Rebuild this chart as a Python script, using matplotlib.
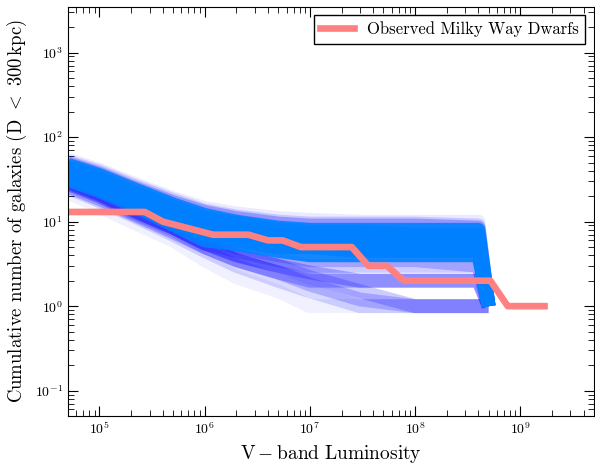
import matplotlib
matplotlib.use("Agg")
import matplotlib.pyplot as plt
import numpy as np

# luminosity grid shared by the model realisations
lum = [5e4, 1e5, 2e5, 5e5, 1e6, 2e6, 5e6, 1e7, 3e7, 1e8, 4e8, 5e8]

# dense (bright blue) realisations
core_counts = [
    [47, 35.5, 25, 16, 12, 10, 8.5, 8, 8, 8, 8, 1],
    [44, 33, 23, 15, 11, 9.5, 8, 7.5, 7.5, 7, 7, 1],
    [41, 30.5, 21.5, 14, 10, 8.5, 7, 7, 6.5, 6.5, 6.5, 1],
    [38, 28, 19.5, 12.5, 9, 7.5, 6.5, 6, 6, 6, 6, 1],
    [35, 26, 18, 11, 8, 7, 6, 5.5, 5, 5, 5, 1],
    [33, 24.5, 17, 10, 7, 6, 5, 5, 4.5, 4.5, 4.5, 1],
    [31, 23, 16, 9.2, 6, 5.4, 4.5, 4, 4, 4, 4, 1],
]

# faint (lavender) realisations
faint_counts = [
    [51, 39, 27.5, 18, 13.5, 11.5, 10, 9.5, 9.5, 9.5, 9, 1],
    [54, 41, 29, 19, 14.5, 12.5, 11, 10.5, 10, 10, 10, 1],
    [49, 37, 26, 17, 13, 11, 9.5, 9, 9, 9, 8.5, 1],
    [32, 23.5, 16, 9.5, 6.5, 5, 4, 3.5, 3.5, 3.5, 3, 1],
    [28, 20, 13.5, 8.5, 5.5, 4.5, 3.5, 3, 3, 3, 3, 1],
    [29, 21, 14, 8.5, 5.5, 4, 3, 2.5, 2, 2, 2, 1],
    [26, 18.5, 12.5, 7.5, 5, 3.5, 2.5, 2, 2, 2, 2, 1],
    [25, 17.5, 12, 7, 4.5, 3, 2, 1.5, 1, 1, 1, 1],
    [28, 20, 13, 8, 5, 3.5, 2.5, 1.8, 1.2, 1, 1, 1],
    [30, 21, 14, 8.5, 5.5, 4, 3, 2.2, 1.5, 1, 1, 1],
    [22, 15, 10, 6, 3.5, 2.2, 1.5, 1, 1, 1, 1, 1],
]
faint_alpha = [0.15, 0.08, 0.25, 0.2, 0.2, 0.25, 0.25, 0.15, 0.2, 0.2, 0.06]

# observed Milky Way satellites
obs_lum = [5e4, 2.7e5, 4e5, 1.2e6, 2.6e6, 4e6, 5.5e6, 8.2e6, 2.5e7, 3.6e7,
           5.4e7, 7.8e7, 5.2e8, 7.6e8, 1.7e9]
obs_count = [13, 13, 10, 7, 7, 6, 6, 5, 5, 3, 3, 2, 2, 1, 1]


def main():
    plt.rcParams['font.family'] = 'serif'
    plt.rcParams['font.serif'] = ['cmr10']
    plt.rcParams['mathtext.fontset'] = 'cm'
    plt.rcParams['axes.formatter.use_mathtext'] = True
    plt.rcParams['xtick.direction'] = 'in'
    plt.rcParams['ytick.direction'] = 'in'
    plt.rcParams['xtick.top'] = True
    plt.rcParams['ytick.right'] = True

    fig = plt.figure(figsize=(5.95, 4.65), dpi=100)
    ax = fig.add_axes([0.114, 0.105, 0.884, 0.881])

    for row, a in zip(faint_counts, faint_alpha):
        ax.plot(lum, row, color='blue', lw=10, alpha=a, solid_capstyle='butt')
    for row in core_counts:
        ax.plot(lum, row, color='#0080ff', lw=10, alpha=0.9, solid_capstyle='butt')

    ax.plot(obs_lum, obs_count, color='#ff8080', lw=4.8,
            label='Observed Milky Way Dwarfs')

    ax.set_xscale('log')
    ax.set_yscale('log')
    ax.set_xlim(5e4, 5e9)
    ax.set_ylim(0.05, 3500)
    ax.tick_params(which='major', length=7, width=0.8, labelsize=10)
    ax.tick_params(which='minor', length=4, width=0.6)

    ax.set_xlabel(r'$\mathrm{V-band\ Luminosity}$', fontsize=14)
    ax.set_ylabel(r'Cumulative number of galaxies (D $<$ 300$\,$kpc)',
                  fontsize=13.5)

    leg = ax.legend(loc='upper right', fancybox=False, framealpha=1,
                    edgecolor='black', fontsize=12, handlelength=2)
    leg.get_frame().set_linewidth(1.0)

    fig.savefig('out.png', dpi=100)


if __name__ == "__main__":
    main()
